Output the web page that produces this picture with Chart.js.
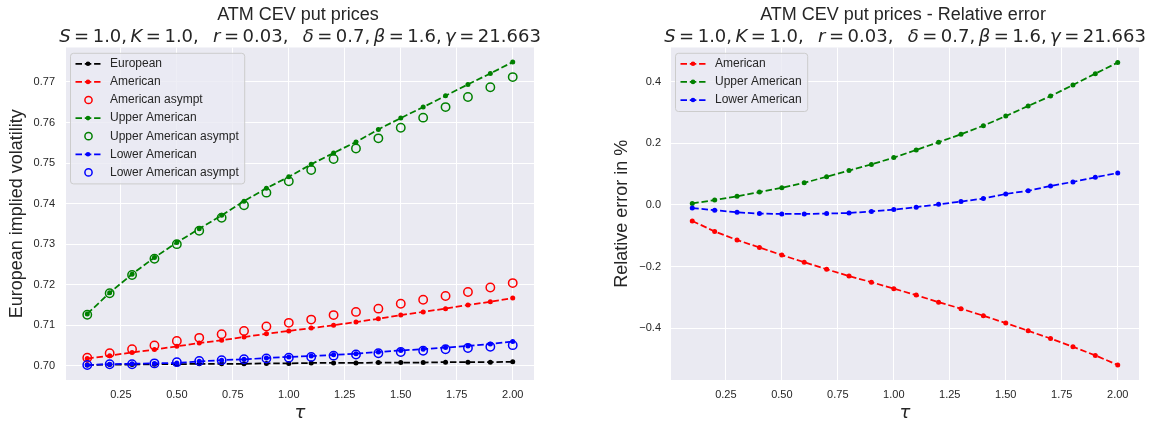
<!DOCTYPE html>
<html>
<head>
<meta charset="utf-8">
<script src="https://cdn.jsdelivr.net/npm/chart.js@4.4.1/dist/chart.umd.min.js"></script>
<style>
	body { margin: 0; background: #fff; }
	#wrap { position: relative; width: 1155px; height: 425px; }
	canvas { position: absolute; top: 0; }
</style>
</head>
<body>
<div id="wrap">
	<canvas id="chartLeft" width="580" height="425" style="left:0"></canvas>
	<canvas id="chartRight" width="575" height="425" style="left:580px"></canvas>
</div>
<script>
var tau = [0.1, 0.2, 0.3, 0.4, 0.5, 0.6, 0.7, 0.8, 0.9, 1.0, 1.1, 1.2, 1.3, 1.4, 1.5, 1.6, 1.7, 1.8, 1.9, 2.0];

var european       = [0.7002, 0.7003, 0.7003, 0.7004, 0.7004, 0.7005, 0.7005, 0.7005, 0.7006, 0.7006, 0.7007, 0.7007, 0.7007, 0.7008, 0.7008, 0.7008, 0.7009, 0.7009, 0.7009, 0.7010];
var american       = [0.7018, 0.7025, 0.7033, 0.7040, 0.7048, 0.7056, 0.7063, 0.7071, 0.7079, 0.7086, 0.7093, 0.7100, 0.7108, 0.7116, 0.7125, 0.7133, 0.7141, 0.7150, 0.7158, 0.7167];
var americanAsympt = [0.7020, 0.7031, 0.7041, 0.7050, 0.7061, 0.7069, 0.7078, 0.7086, 0.7097, 0.7106, 0.7114, 0.7125, 0.7133, 0.7141, 0.7153, 0.7163, 0.7172, 0.7182, 0.7193, 0.7204];
var upper          = [0.7128, 0.7180, 0.7226, 0.7267, 0.7304, 0.7338, 0.7371, 0.7406, 0.7438, 0.7466, 0.7497, 0.7525, 0.7552, 0.7583, 0.7611, 0.7638, 0.7666, 0.7694, 0.7721, 0.7749];
var upperAsympt    = [0.7126, 0.7179, 0.7224, 0.7264, 0.7300, 0.7333, 0.7365, 0.7396, 0.7427, 0.7455, 0.7483, 0.7510, 0.7536, 0.7561, 0.7587, 0.7612, 0.7638, 0.7663, 0.7687, 0.7712];
var lower          = [0.7002, 0.7004, 0.7005, 0.7006, 0.7007, 0.7011, 0.7014, 0.7016, 0.7019, 0.7022, 0.7024, 0.7027, 0.7030, 0.7034, 0.7038, 0.7041, 0.7045, 0.7049, 0.7054, 0.7060];
var lowerAsympt    = [0.7002, 0.7004, 0.7004, 0.7006, 0.7009, 0.7012, 0.7014, 0.7016, 0.7018, 0.7020, 0.7022, 0.7025, 0.7028, 0.7031, 0.7034, 0.7037, 0.7041, 0.7044, 0.7047, 0.7051];

// relative error in %
var errAmerican = [-0.052, -0.086, -0.114, -0.138, -0.163, -0.186, -0.209, -0.231, -0.251, -0.272, -0.293, -0.316, -0.337, -0.360, -0.384, -0.409, -0.434, -0.461, -0.489, -0.520];
var errUpper    = [0.005, 0.016, 0.028, 0.042, 0.056, 0.072, 0.092, 0.112, 0.132, 0.154, 0.179, 0.204, 0.230, 0.258, 0.289, 0.322, 0.354, 0.390, 0.427, 0.463];
var errLower    = [-0.010, -0.017, -0.024, -0.028, -0.029, -0.029, -0.028, -0.026, -0.021, -0.015, -0.007, 0.002, 0.011, 0.021, 0.036, 0.046, 0.062, 0.075, 0.090, 0.104];

var xTicks   = [0.25, 0.5, 0.75, 1.0, 1.25, 1.5, 1.75, 2.0];
var volTicks = [0.70, 0.71, 0.72, 0.73, 0.74, 0.75, 0.76, 0.77];
var errTicks = [-0.4, -0.2, 0.0, 0.2, 0.4];

var paramNames  = ['S', 'K', 'r', 'δ', 'β', 'γ'];
var paramValues = ['1.0', '1.0', '0.03', '0.7', '1.6', '21.663'];
var wideGapAfter = [1, 2];

var TEXT = '#262626';
Chart.defaults.font.family = '"Liberation Sans", Arial, sans-serif';
Chart.defaults.color = TEXT;

function pts(ys) {
	return tau.map(function(t, i){ return {x: t, y: ys[i]}; });
}

function lineSet(label, ys, color, order) {
	return {
		label: label, data: pts(ys), borderColor: color, backgroundColor: color,
		borderWidth: 1.75, borderDash: [6.5, 2.8], pointRadius: 2.5, pointBorderWidth: 0,
		pointBackgroundColor: color, order: order
	};
}

function circleSet(label, ys, color, order) {
	return {
		label: label, data: pts(ys), borderColor: color, backgroundColor: 'rgba(0,0,0,0)',
		showLine: false, pointRadius: 4.2, pointBorderWidth: 1.5,
		pointBackgroundColor: 'rgba(0,0,0,0)', pointBorderColor: color, order: order
	};
}

// second title line, mathtext look: italic symbols, small space round '='
function drawMath(ctx, cx, y, size) {
	var it = 'italic ' + size + 'px "DejaVu Sans"', rm = size + 'px "DejaVu Sans"';
	var g = 0.195 * size, c = 0.195 * size, G = 14.3;
	var pieces = [];
	paramNames.forEach(function(n, i){
		var last = i === paramNames.length - 1;
		pieces.push([n, it, g]);
		pieces.push(['=', rm, g]);
		pieces.push([paramValues[i] + (last ? '' : ','), rm, last ? 0 : (wideGapAfter.indexOf(i) >= 0 ? G : c)]);
	});
	var total = 0;
	pieces.forEach(function(p){ ctx.font = p[1]; p.push(ctx.measureText(p[0]).width); total += p[3] + p[2]; });
	var x = cx - total / 2;
	ctx.textAlign = 'left';
	pieces.forEach(function(p){ ctx.font = p[1]; ctx.fillText(p[0], x, y); x += p[3] + p[2]; });
}

var mplPlugin = {
	id: 'mpl',
	beforeDraw: function(chart){
		var a = chart.chartArea, ctx = chart.ctx;
		ctx.save();
		ctx.fillStyle = '#EAEAF2';
		ctx.fillRect(a.left, a.top, a.right - a.left, a.bottom - a.top);
		ctx.restore();
	},
	afterDraw: function(chart, args, opts){
		var ctx = chart.ctx;
		var cx = (chart.chartArea.left + chart.chartArea.right) / 2;
		ctx.save();
		ctx.fillStyle = TEXT;
		ctx.textBaseline = 'alphabetic';
		ctx.textAlign = 'center';
		ctx.font = '18px "Liberation Sans"';
		ctx.fillText(opts.title, cx - 2, 20);
		drawMath(ctx, cx, 41.5, 18);

		// legend box in the upper left corner
		var sets = chart.data.datasets;
		ctx.font = '12px "Liberation Sans"';
		var tw = 0;
		sets.forEach(function(d){ tw = Math.max(tw, ctx.measureText(d.label).width); });
		var bx = chart.chartArea.left + 4.5, by = chart.chartArea.top + 5.8;
		var bw = 39.5 + tw + 6, bh = 10.5 + (sets.length - 1) * 18.1 + 11.5;
		ctx.beginPath();
		ctx.roundRect(bx, by, bw, bh, 3);
		ctx.fillStyle = 'rgba(234,234,242,0.8)';
		ctx.fill();
		ctx.strokeStyle = '#CCCCCC';
		ctx.lineWidth = 1;
		ctx.stroke();
		sets.forEach(function(d, i){
			var y = by + 10.5 + i * 18.1;
			if (d.showLine === false) {
				ctx.beginPath();
				ctx.arc(bx + 18, y, 3.6, 0, Math.PI * 2);
				ctx.strokeStyle = d.pointBorderColor;
				ctx.lineWidth = 1.5;
				ctx.stroke();
			} else {
				ctx.beginPath();
				ctx.setLineDash(d.borderDash);
				ctx.moveTo(bx + 5, y);
				ctx.lineTo(bx + 30, y);
				ctx.strokeStyle = d.borderColor;
				ctx.lineWidth = 1.75;
				ctx.stroke();
				ctx.setLineDash([]);
				ctx.beginPath();
				ctx.arc(bx + 17.5, y, 2.3, 0, Math.PI * 2);
				ctx.fillStyle = d.borderColor;
				ctx.fill();
			}
			ctx.fillStyle = TEXT;
			ctx.textAlign = 'left';
			ctx.textBaseline = 'middle';
			ctx.fillText(d.label, bx + 39.5, y);
		});
		ctx.restore();
	}
};

function xScale() {
	return {
		type: 'linear', min: 0.005, max: 2.095,
		afterBuildTicks: function(s){ s.ticks = xTicks.map(function(v){ return {value: v}; }); },
		afterFit: function(s){ s.height = 45; },
		grid: {color: '#FFFFFF', lineWidth: 1, drawTicks: false},
		border: {display: false},
		ticks: {padding: 8, font: {size: 11}, autoSkip: false, maxRotation: 0,
			callback: function(v){ return v.toFixed(2); }},
		title: {display: true, text: 'τ', font: {family: '"DejaVu Sans"', style: 'italic', size: 18},
			padding: {top: 0, bottom: 1}}
	};
}

function yScale(min, max, ticks, width, pad, titlePad, text, fmt) {
	return {
		type: 'linear', min: min, max: max,
		afterBuildTicks: function(s){ s.ticks = ticks.map(function(v){ return {value: v}; }); },
		afterFit: function(s){ s.width = width; },
		grid: {color: '#FFFFFF', lineWidth: 1, drawTicks: false},
		border: {display: false},
		ticks: {padding: pad, font: {size: 11}, callback: fmt},
		title: {display: true, text: text, font: {size: 18}, padding: {top: titlePad, bottom: 0}}
	};
}

var common = {
	responsive: false, animation: false, devicePixelRatio: 1,
	plugins: {legend: {display: false}, tooltip: {enabled: false}}
};

new Chart(document.getElementById('chartLeft'), {
	type: 'line',
	data: {
		datasets: [
			lineSet('European', european, '#000000', 7),
			lineSet('American', american, '#FF0000', 6),
			circleSet('American asympt', americanAsympt, '#FF0000', 5),
			lineSet('Upper American', upper, '#008000', 4),
			circleSet('Upper American asympt', upperAsympt, '#008000', 3),
			lineSet('Lower American', lower, '#0000FF', 2),
			circleSet('Lower American asympt', lowerAsympt, '#0000FF', 1)
		]
	},
	options: Object.assign({}, common, {
		layout: {padding: {top: 47.5, right: 46, left: 0, bottom: 0}},
		scales: {
			x: xScale(),
			y: yScale(0.6965, 0.7785, volTicks, 66, 11, 6.7, 'European implied volatility',
				function(v){ return v.toFixed(2); })
		},
		plugins: Object.assign({}, common.plugins, {mpl: {title: 'ATM CEV put prices'}})
	}),
	plugins: [mplPlugin]
});

new Chart(document.getElementById('chartRight'), {
	type: 'line',
	data: {
		datasets: [
			lineSet('American', errAmerican, '#FF0000', 3),
			lineSet('Upper American', errUpper, '#008000', 2),
			lineSet('Lower American', errLower, '#0000FF', 1)
		]
	},
	options: Object.assign({}, common, {
		layout: {padding: {top: 47.5, right: 16, left: 0, bottom: 0}},
		scales: {
			x: xScale(),
			y: yScale(-0.569, 0.512, errTicks, 91, 10, 31.2, 'Relative error in %',
				function(v){ return (v < -1e-9 ? '\u2212' : '') + Math.abs(v).toFixed(1); })
		},
		plugins: Object.assign({}, common.plugins, {mpl: {title: 'ATM CEV put prices - Relative error'}})
	}),
	plugins: [mplPlugin]
});
</script>
</body>
</html>
